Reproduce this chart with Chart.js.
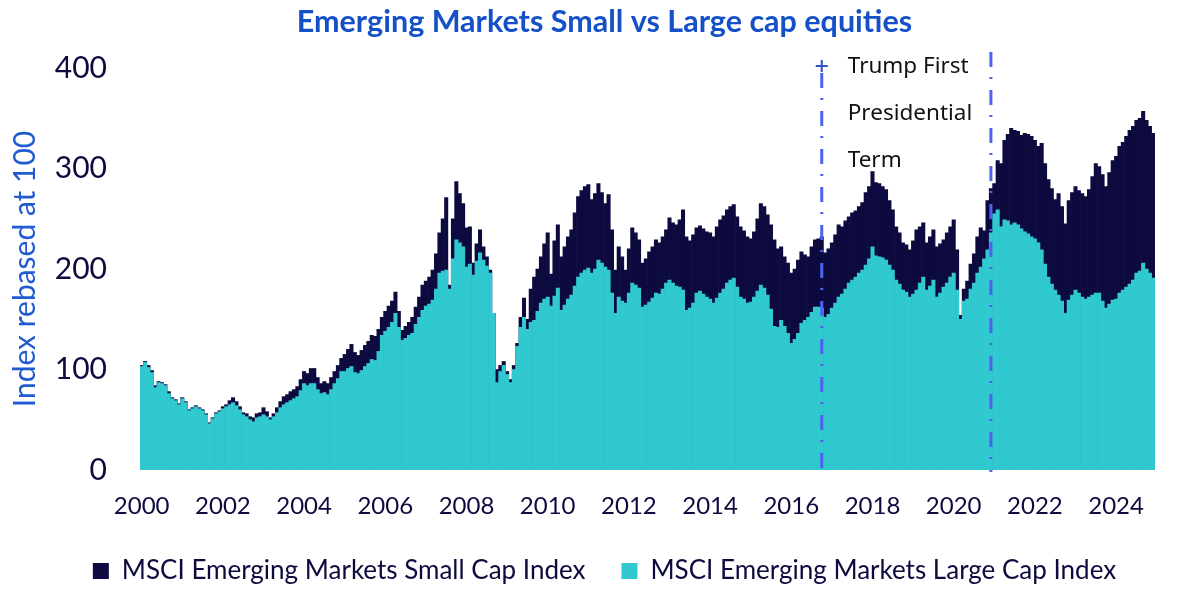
<!DOCTYPE html>
<html>
<head>
<meta charset="utf-8">
<title>Emerging Markets Small vs Large cap equities</title>
<script src="https://cdn.jsdelivr.net/npm/chart.js@4.4.1/dist/chart.umd.min.js"></script>
<style>
  html, body { margin: 0; padding: 0; background: #fff; }
  #wrap { position: relative; width: 1200px; height: 598px; }
</style>
</head>
<body>
<div id="wrap"><canvas id="chart"></canvas></div>
<script>
// monthly categories, Jan 2000 - Dec 2024
const months = [];
for (let yr = 2000; yr <= 2024; yr++) {
    for (let mo = 1; mo <= 12; mo++) {
        months.push(yr + '-' + String(mo).padStart(2, '0'));
    }
}

const yearTicks = ['2000', '2002', '2004', '2006', '2008', '2010', '2012',
    '2014', '2016', '2018', '2020', '2022', '2024'];

// MSCI EM Small Cap, rebased at 100 (one row per year)
const smallCap = [
    104, 108, 104,  99,  84,  88,  87,  85,  78,  72,  70,  66,
     72,  68,  60,  62,  64,  62,  60,  56,  47,  52,  57,  59,
     63,  65,  69,  72,  68,  63,  57,  56,  53,  52,  56,  57,
     62,  58,  52,  56,  62,  68,  73,  75,  78,  80,  83,  90,
     98,  96, 101, 101,  92,  86,  88,  86,  92,  98, 104, 111,
    115, 120, 125, 117, 114, 119, 124, 128, 134, 133, 140, 152,
    158, 163, 168, 177, 158, 139, 143, 147, 152, 162, 172, 184,
    188, 192, 199, 215, 236, 250, 271, 184, 250, 287, 275, 265,
    241, 242, 206, 225, 239, 222, 212, 199, 156, 100, 104, 108,
     98,  90, 104, 126, 152, 171, 150, 180, 192, 200, 212, 225,
    236, 195, 228, 244, 212, 222, 232, 239, 256, 272, 278, 282,
    284, 269, 275, 285, 276, 265, 274, 239, 199, 222, 212, 199,
    220, 241, 236, 229, 206, 210, 217, 222, 229, 226, 232, 239,
    251, 246, 244, 249, 259, 232, 228, 234, 241, 243, 240, 237,
    236, 232, 242, 249, 253, 259, 262, 264, 252, 242, 238, 232,
    230, 237, 250, 265, 262, 254, 244, 229, 220, 222, 212, 206,
    196, 200, 209, 217, 214, 212, 222, 229, 230, 232, 216, 220,
    226, 234, 244, 242, 248, 252, 256, 258, 262, 266, 276, 282,
    297, 286, 285, 282, 279, 268, 259, 242, 236, 226, 224, 219,
    228, 239, 242, 246, 226, 232, 239, 222, 225, 229, 236, 242,
    249, 219, 154, 180, 188, 205, 215, 232, 241, 238, 268, 280,
    285, 308, 305, 328, 334, 340, 338, 337, 333, 335, 334, 332,
    328, 322, 325, 305, 289, 280, 269, 275, 262, 245, 268, 276,
    282, 278, 275, 272, 279, 292, 305, 302, 294, 282, 296, 308,
    312, 322, 326, 332, 338, 342, 348, 350, 357, 348, 342, 335
];

// MSCI EM Large Cap, rebased at 100
const largeCap = [
    103, 107, 102,  97,  82,  87,  86,  84,  76,  71,  69,  65,
     71,  67,  59,  61,  63,  61,  59,  55,  46,  51,  56,  58,
     61,  63,  65,  67,  64,  60,  55,  53,  50,  48,  52,  53,
     55,  53,  50,  53,  57,  62,  65,  67,  69,  71,  73,  79,
     86,  84,  86,  86,  80,  76,  77,  75,  80,  86,  91,  98,
     98, 101, 103,  97,  96,  99, 103, 106, 110, 109, 118, 134,
    138, 142, 147, 156, 142, 129, 131, 134, 136, 145, 152, 159,
    163, 165, 169, 180, 196, 198, 199, 180, 210, 229, 226, 222,
    202, 205, 194, 208, 216, 209, 203, 196, 156,  87,  98, 104,
     95,  87, 100, 123, 142, 152, 140, 147, 149, 158, 166, 170,
    172, 163, 173, 181, 159, 164, 170, 174, 183, 192, 196, 199,
    201, 196, 200, 209, 206, 202, 199, 176, 156, 172, 168, 166,
    176, 186, 184, 181, 162, 164, 167, 171, 176, 175, 180, 186,
    189, 186, 183, 182, 179, 159, 161, 166, 176, 178, 175, 172,
    170, 166, 171, 176, 180, 186, 189, 191, 182, 172, 170, 166,
    167, 172, 178, 184, 181, 174, 160, 143, 142, 149, 143, 136,
    126, 130, 136, 146, 149, 152, 157, 162, 162, 161, 152, 155,
    161, 166, 172, 175, 180, 186, 189, 192, 196, 199, 204, 210,
    222, 213, 212, 211, 209, 204, 199, 189, 185, 179, 177, 172,
    175, 179, 186, 192, 179, 183, 189, 172, 176, 182, 186, 192,
    196, 179, 150, 168, 170, 180, 186, 196, 202, 210, 219, 236,
    255, 259, 242, 249, 248, 244, 246, 244, 240, 237, 235, 232,
    230, 226, 219, 205, 192, 185, 179, 174, 168, 156, 169, 174,
    179, 176, 172, 170, 172, 174, 176, 176, 168, 161, 165, 169,
    170, 176, 179, 182, 185, 189, 196, 198, 206, 200, 196, 191
];

// Trump first term markers
const termMarks = ['2016-10', '2020-12'];
const termTops = [395, 416];
const termText = ['Trump First', 'Presidential', 'Term'];

const NAVY = '#0c0a3e';
const CYAN = '#30c9cf';
const BLUE = '#1450c8';

// dash-dot lines + annotation
const termLines = {
    id: 'termLines',
    afterDatasetsDraw(chart) {
        const { ctx, chartArea, scales: { x, y } } = chart;
        ctx.save();
        ctx.strokeStyle = '#4d63ee';
        ctx.lineWidth = 3;
        ctx.setLineDash([15, 10, 2, 11]);
        const xs = termMarks.map(m => x.getPixelForValue(months.indexOf(m)));
        xs.forEach((px, i) => {
            ctx.beginPath();
            ctx.moveTo(px, y.getPixelForValue(termTops[i]));
            ctx.lineTo(px, chartArea.bottom + 2);
            ctx.stroke();
        });

        // small cross on top of the first line
        ctx.setLineDash([]);
        ctx.lineWidth = 2;
        ctx.strokeStyle = '#2c54c4';
        const cy = y.getPixelForValue(402);
        ctx.beginPath();
        ctx.moveTo(xs[0] - 6, cy);
        ctx.lineTo(xs[0] + 6, cy);
        ctx.moveTo(xs[0], cy - 6);
        ctx.lineTo(xs[0], cy + 6);
        ctx.stroke();

        ctx.fillStyle = '#111111';
        ctx.font = '22.5px "Noto Sans"';
        ctx.textBaseline = 'middle';
        ctx.textAlign = 'left';
        const ty = y.getPixelForValue(401);
        termText.forEach((t, i) => {
            ctx.fillText(t, xs[0] + 26, ty + i * 47);
        });
        ctx.restore();
    }
};

const ctx = document.getElementById('chart').getContext('2d');
new Chart(ctx, {
    type: 'bar',
    data: {
        labels: months,
        datasets: [
            {
                label: 'MSCI Emerging Markets Small Cap Index',
                data: smallCap,
                backgroundColor: NAVY,
                borderWidth: 0,
                grouped: false,
                order: 2
            },
            {
                label: 'MSCI Emerging Markets Large Cap Index',
                data: largeCap,
                backgroundColor: CYAN,
                borderWidth: 0,
                grouped: false,
                order: 1
            }
        ]
    },
    options: {
        responsive: true,
        maintainAspectRatio: false,
        animation: false,
        barPercentage: 1,
        categoryPercentage: 1,
        layout: {
            padding: { left: 54, right: 45, top: 0, bottom: 4 }
        },
        plugins: {
            title: {
                display: true,
                text: 'Emerging Markets Small vs Large cap equities',
                color: BLUE,
                font: { family: 'Lato', size: 30.5, weight: 'bold', lineHeight: 1.2 },
                padding: { top: 3.7, bottom: 27.7 }
            },
            legend: {
                position: 'bottom',
                labels: {
                    color: NAVY,
                    font: { family: 'Lato', size: 26 },
                    boxWidth: 16,
                    boxHeight: 16,
                    padding: 36,
                    sort: (a, b) => a.datasetIndex - b.datasetIndex
                }
            },
            tooltip: { enabled: false }
        },
        scales: {
            x: {
                grid: { display: false, drawTicks: false },
                border: { display: false },
                ticks: {
                    autoSkip: false,
                    maxRotation: 0,
                    color: NAVY,
                    font: { family: 'Lato', size: 24 },
                    padding: 22,
                    callback: function(value, index) {
                        const m = months[index];
                        const yr = m.slice(0, 4);
                        return m.endsWith('-01') && yearTicks.includes(yr) ? yr : null;
                    }
                },
                afterFit: (scale) => { scale.height = 52; }
            },
            y: {
                min: 0,
                max: 400,
                grid: { display: false, drawTicks: false },
                border: { display: false },
                ticks: {
                    stepSize: 100,
                    color: NAVY,
                    font: { family: 'Lato', size: 30 },
                    padding: 33
                },
                title: {
                    display: true,
                    text: 'Index rebased at 100',
                    color: '#1f5ad0',
                    font: { family: 'Lato', size: 30, lineHeight: 1.2 },
                    padding: { top: -47, bottom: 0 }
                },
                afterFit: (scale) => { scale.width = 86; }
            }
        }
    },
    plugins: [termLines]
});
</script>
</body>
</html>
